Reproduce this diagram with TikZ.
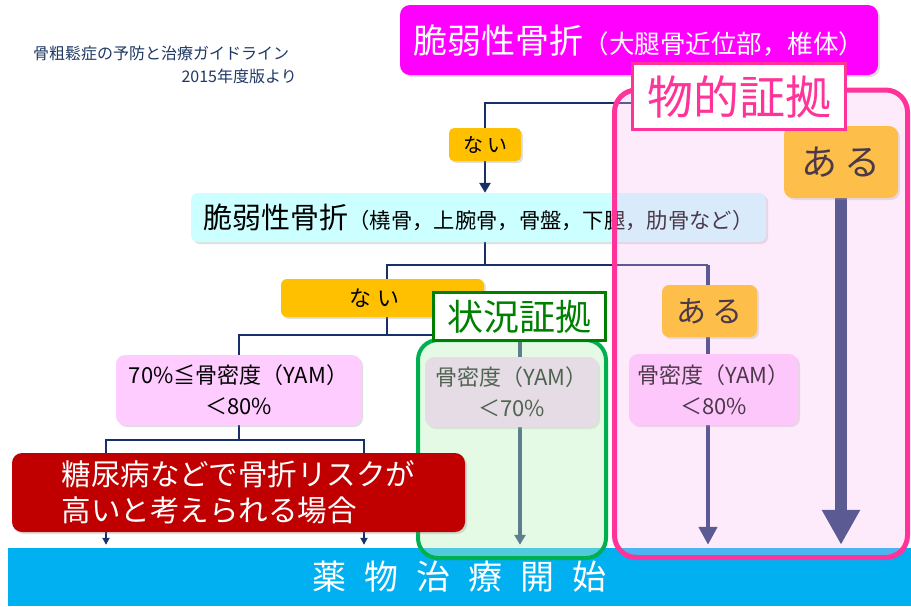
\documentclass[tikz,border=0pt]{standalone}
\usepackage{fontspec}
\setmainfont{Noto Sans CJK JP}
\usetikzlibrary{arrows.meta,shadows}
\pgfdeclarelayer{back}
\pgfdeclarelayer{bg}
\pgfsetlayers{back,bg,main}
\definecolor{nav}{HTML}{17306A}
\definecolor{magbox}{HTML}{FF00FF}
\definecolor{cyanbox}{HTML}{CCFFFF}
\definecolor{orng}{HTML}{FFC000}
\definecolor{pinkbox}{HTML}{FFCCFF}
\definecolor{redbox}{HTML}{C00000}
\definecolor{barblue}{HTML}{00B0F0}
\definecolor{pinkov}{RGB}{250,190,245}
\definecolor{greenov}{RGB}{194,243,194}
\definecolor{pinkline}{HTML}{FF3399}
\definecolor{greenline}{HTML}{00B050}
\definecolor{darkgreen}{HTML}{008000}
\definecolor{titleblue}{HTML}{1F3864}
\newcommand{\fsz}[2]{\fontsize{#1pt}{#2pt}\selectfont}
\begin{document}
\begin{tikzpicture}[x=1pt,y=-1pt,
  box/.style={rounded corners=8pt, inner sep=0pt, align=center,
    drop shadow={shadow xshift=2pt,shadow yshift=-2pt,opacity=0.25}},
  navline/.style={draw=nav, line width=2.8pt},
  fatline/.style={draw=nav, line width=4.5pt},
  tipnav/.style={-{Triangle[width=11pt,length=10pt]}},
  tipsmall/.style={-{Triangle[width=7pt,length=7pt]}},
  tipmid/.style={-{Triangle[width=18pt,length=18pt]}},
  tipbig/.style={-{Triangle[width=36pt,length=35pt]}},
  evlabel/.style={fill=white, line width=3pt, inner sep=0pt}
]
\useasboundingbox (0,0) rectangle (911,606);
\begin{pgfonlayer}{back}
\fill[white] (0,0) rectangle (911,606);
\end{pgfonlayer}

% source note
\node[anchor=west, text=titleblue, font=\fsz{16}{18}, inner sep=0pt] (src1) at (33,53) {骨粗鬆症の予防と治療ガイドライン};
\node[anchor=east, text=titleblue, font=\fsz{16}{18}, inner sep=0pt] (src2) at (297,76) {2015年度版より};

% boxes
\node[box, fill=magbox, text=white, minimum width=478, minimum height=70, rounded corners=10pt] (mag) at (639,40)
  {{\fsz{34}{40}脆弱性骨折}{\fsz{25.5}{30}（大腿骨近位部，椎体）}};
\node[box, fill=orng, minimum width=72, minimum height=33, rounded corners=5pt, font=\fsz{20}{24}] (nai1) at (485,144.5) {な\hspace{4pt}い};
\node[box, fill=cyanbox, minimum width=575, minimum height=49, rounded corners=7pt] (box2) at (478.5,217.5)
  {{\fsz{29}{34}脆弱性骨折}{\fsz{21.3}{26}（橈骨，上腕骨，骨盤，下腿，肋骨など）}};
\node[box, fill=orng, minimum width=203, minimum height=38, rounded corners=6pt, font=\fsz{22}{26}] (nai2) at (382.5,298) {な\hspace{6pt}い\hspace{16pt}};
\node[box, fill=pinkbox, minimum width=245, minimum height=70, rounded corners=9pt, font=\fsz{22}{31}] (p70) at (238.5,390)
  {70\%≦骨密度（YAM）\\＜80\%};
\node[box, fill=pinkbox, minimum width=173, minimum height=70, rounded corners=9pt, font=\fsz{22}{31}] (g70) at (511.5,392)
  {骨密度（YAM）\\＜70\%};
\node[box, fill=orng, minimum width=95, minimum height=52, rounded corners=7pt, font=\fsz{30}{34}] (aruS) at (709.5,311) {あ\hspace{6pt}る};
\node[box, fill=pinkbox, minimum width=169, minimum height=71, rounded corners=9pt, font=\fsz{22}{31}] (p80) at (713.5,389.5)
  {骨密度（YAM）\\＜80\%};
\node[box, fill=orng, minimum width=114, minimum height=72, rounded corners=9pt, font=\fsz{36}{40}] (aruB) at (841,162) {あ\hspace{8pt}る};
\node[fill=barblue, text=white, minimum width=903, minimum height=58, inner sep=0pt, font=\fsz{34}{40}] (bar) at (459.5,577)
  {薬\hspace{18pt}物\hspace{18pt}治\hspace{18pt}療\hspace{18pt}開\hspace{18pt}始};

% junctions
\coordinate (j1) at (485,103);
\coordinate (j2) at (485,265);
\coordinate (j2L) at (387,265);
\coordinate (j2R) at (708,265);
\coordinate (j3) at (387,335);
\coordinate (j3L) at (239,335);
\coordinate (j3R) at (520,335);
\coordinate (j4) at (239,440);
\coordinate (j4L) at (106,440);
\coordinate (j4R) at (364,440);

% connectors
\begin{pgfonlayer}{bg}
\draw[navline] (mag.south) -- (mag.south |- j1);
\draw[navline] (nai1.north) -- (j1) -- (j1 -| aruB.north) -- (aruB.north);
\draw[navline, tipnav] (nai1.south) -- (nai1.south |- box2.north);
\draw[navline] (box2.south -| j2) -- (j2);
\draw[navline] (j2L |- nai2.north) -- (j2L) -- (j2R);
\draw[fatline] (j2R) -- (j2R |- aruS.north);
\draw[fatline] (aruS.south -| j2R) -- (p80.north -| j2R);
\draw[fatline, tipmid, shorten >=3pt] (p80.south -| j2R) -- (j2R |- bar.north);
\draw[navline] (nai2.south -| j3) -- (j3);
\draw[navline] (j3L |- p70.north) -- (j3L) -- (j3R);
\draw[line width=3.5pt, draw=nav] (j3R) -- (j3R |- g70.north);
\draw[fatline, tipnav, shorten >=3pt] (g70.south -| j3R) -- (j3R |- bar.north);
\draw[navline] (p70.south -| j4) -- (j4);
\draw[navline, tipsmall, shorten >=3pt] (j4) -- (j4L) -- (j4L |- bar.north);
\draw[navline, tipsmall, shorten >=3pt] (j4) -- (j4R) -- (j4R |- bar.north);
\draw[draw=nav, line width=12pt, tipbig, shorten >=3pt] (aruB.south) -- (aruB.south |- bar.north);
\end{pgfonlayer}

% evidence regions (translucent overlays)
\fill[greenov, fill opacity=0.41, rounded corners=20pt] (418,340) rectangle (606,558);
\draw[greenline, line width=4pt, rounded corners=20pt] (418,340) rectangle (606,558);
\fill[pinkov, fill opacity=0.3, rounded corners=22pt] (614.5,90) rectangle (907.5,557.5);
\draw[pinkline, line width=5pt, rounded corners=22pt] (614.5,90) rectangle (907.5,557.5);

% red box on top
\node[box, fill=redbox, text=white, minimum width=453, minimum height=79, rounded corners=10pt, align=left, font=\fsz{29.5}{36}] (risk) at (238.5,492.5)
  {糖尿病などで骨折リスクが\\高いと考えられる場合};

% labels
\node[evlabel, draw=pinkline, text=pinkline, minimum width=213, minimum height=66, font=\fsz{46}{50}] (lab1) at (739,96.5) {物的証拠};
\node[evlabel, draw=darkgreen, text=darkgreen, minimum width=172, minimum height=48, font=\fsz{36}{40}] (lab2) at (519.5,316.5) {状況証拠};
\end{tikzpicture}
\end{document}
